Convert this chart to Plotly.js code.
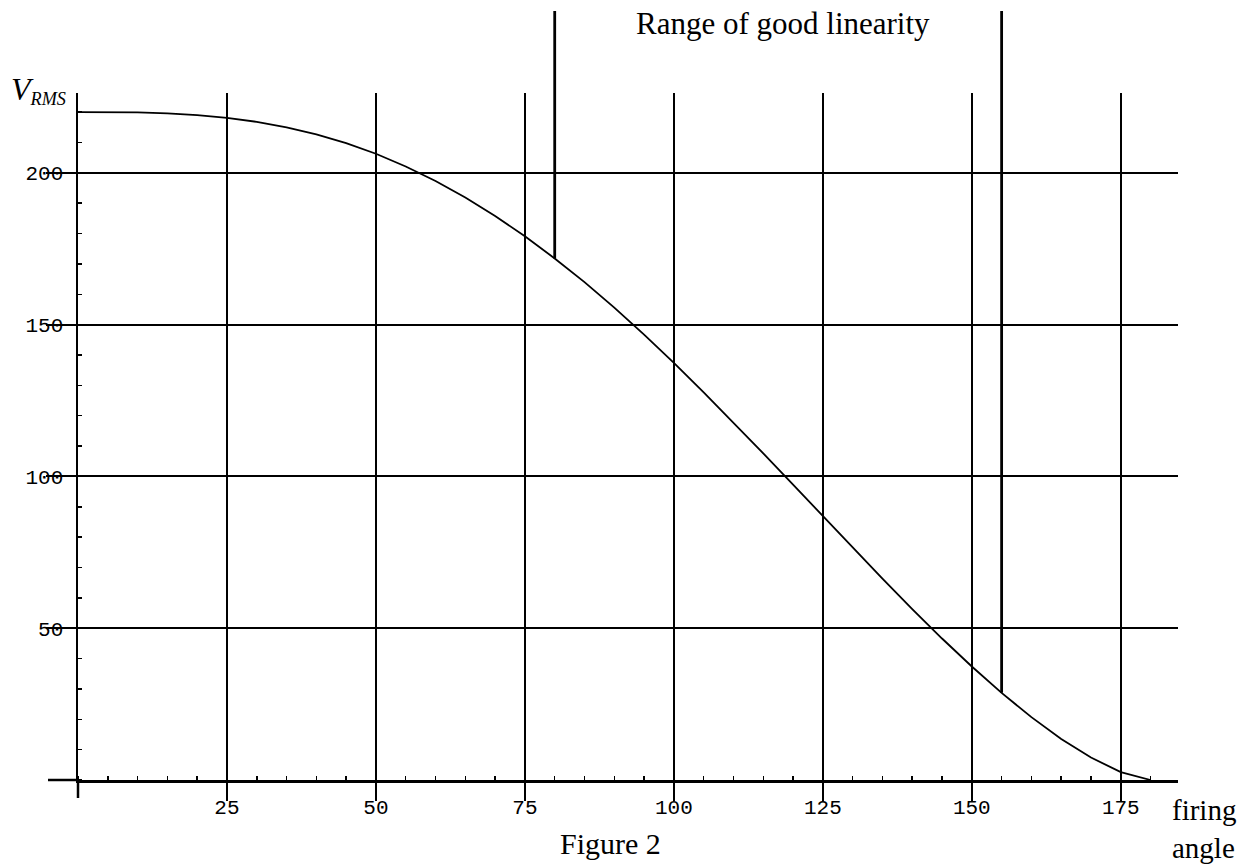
<!DOCTYPE html>
<html>
<head>
<meta charset="utf-8">
<script src="https://cdn.plot.ly/plotly-3.0.1.min.js"></script>
<style>html,body{margin:0;padding:0;background:#fff;}#chart{width:1255px;height:866px;}</style>
</head>
<body>
<div id="chart"></div>
<script>
// Firing angle (degrees) and RMS voltage
const firingAngle = [0,5,10,15,20,25,30,35,40,45,50,55,60,65,70,75,80,85,90,95,100,105,110,115,120,125,130,135,140,145,150,155,160,165,170,175,180];
const vRms = [220.0,220.0,219.9,219.6,219.0,218.1,216.8,215.0,212.7,209.8,206.3,202.1,197.3,191.9,185.8,179.1,171.8,164.0,155.6,146.7,137.4,127.7,117.8,107.6,97.3,86.9,76.5,66.3,56.3,46.6,37.4,28.7,20.7,13.5,7.4,2.6,0.0];

// Axis ticks
const xTickVals = [25,50,75,100,125,150,175];
const xTickText = ['25','50','75','100','125','150','175'];
const yTickVals = [50,100,150,200];
const yTickText = ['50','100','150','200'];

// Bounds of the "Range of good linearity"
const linearityBounds = [80,155];

const xRange = [0,184.6];
const yRange = [0,226.3];

const W = 1255, H = 866;
const M = {l: 78, r: 77, t: 93, b: 86};
const plotW = W - M.l - M.r, plotH = H - M.t - M.b;
// paper coordinate from a page pixel row
const py = p => (M.t + plotH - p) / plotH;
const px = p => (p - M.l) / plotW;

const serif = 'Liberation Serif, Times New Roman, serif';
const mono = 'Liberation Mono, Courier New, monospace';

const trace = {
  x: firingAngle, y: vRms, type: 'scatter', mode: 'lines',
  line: {color: '#000', width: 1.8}, hoverinfo: 'skip', showlegend: false
};

const shapes = linearityBounds.map(a => {
  const idx = firingAngle.indexOf(a);
  return {
    type: 'line', xref: 'x', yref: 'paper',
    x0: a, x1: a,
    y0: vRms[idx] / yRange[1], y1: py(11),
    line: {color: '#000', width: 2.8}
  };
});
// axis lines continue a little past the origin
shapes.push({type: 'line', xref: 'paper', yref: 'paper', x0: px(48), x1: 0, y0: 0, y1: 0, line: {color: '#000', width: 2.5}});
shapes.push({type: 'line', xref: 'paper', yref: 'paper', x0: 0, x1: 0, y0: py(798), y1: 0, line: {color: '#000', width: 2.5}});

const layout = {
  width: W, height: H,
  margin: {l: M.l, r: M.r, t: M.t, b: M.b, pad: 0},
  paper_bgcolor: '#fff', plot_bgcolor: '#fff',
  showlegend: false,
  xaxis: {
    range: xRange, showline: true, linecolor: '#000', linewidth: 2.5,
    showgrid: true, gridcolor: '#000', gridwidth: 2, zeroline: false,
    tickmode: 'array', tickvals: xTickVals, ticktext: xTickText,
    ticks: 'outside', ticklen: 18, tickwidth: 2, tickcolor: '#000',
    tickfont: {family: mono, size: 21, color: '#000'},
    ticklabelstandoff: -12,
    minor: {tickmode: 'linear', tick0: 0, dtick: 5, ticks: 'inside', ticklen: 4, tickwidth: 1.5, tickcolor: '#000', showgrid: false},
    fixedrange: true
  },
  yaxis: {
    range: yRange, showline: true, linecolor: '#000', linewidth: 2.5,
    showgrid: true, gridcolor: '#000', gridwidth: 2, zeroline: false,
    tickmode: 'array', tickvals: yTickVals, ticktext: yTickText,
    ticks: 'outside', ticklen: 30, tickwidth: 2, tickcolor: '#000',
    tickfont: {family: mono, size: 21, color: '#000'},
    ticklabelstandoff: -22,
    minor: {tickmode: 'linear', tick0: 0, dtick: 10, ticks: 'inside', ticklen: 4, tickwidth: 1.5, tickcolor: '#000', showgrid: false},
    fixedrange: true
  },
  shapes: shapes,
  annotations: [
    {text: '<i><span style="font-size:32px">V</span><sub>RMS</sub></i>', xref: 'paper', yref: 'paper', x: px(9), y: py(90), xanchor: 'left', yanchor: 'middle', showarrow: false, font: {family: serif, size: 26, color: '#000'}},
    {text: 'Range of good linearity', xref: 'paper', yref: 'paper', x: px(783), y: py(23), xanchor: 'center', yanchor: 'middle', showarrow: false, font: {family: serif, size: 31, color: '#000'}},
    {text: 'Figure 2', xref: 'paper', yref: 'paper', x: px(610), y: py(843), xanchor: 'center', yanchor: 'middle', showarrow: false, font: {family: serif, size: 30, color: '#000'}},
    {text: 'firing<br>angle', xref: 'paper', yref: 'paper', x: px(1170), y: py(829), xanchor: 'left', yanchor: 'middle', align: 'left', showarrow: false, font: {family: serif, size: 29, color: '#000'}}
  ]
};

Plotly.newPlot('chart', [trace], layout, {staticPlot: true, displayModeBar: false});
</script>
</body>
</html>
